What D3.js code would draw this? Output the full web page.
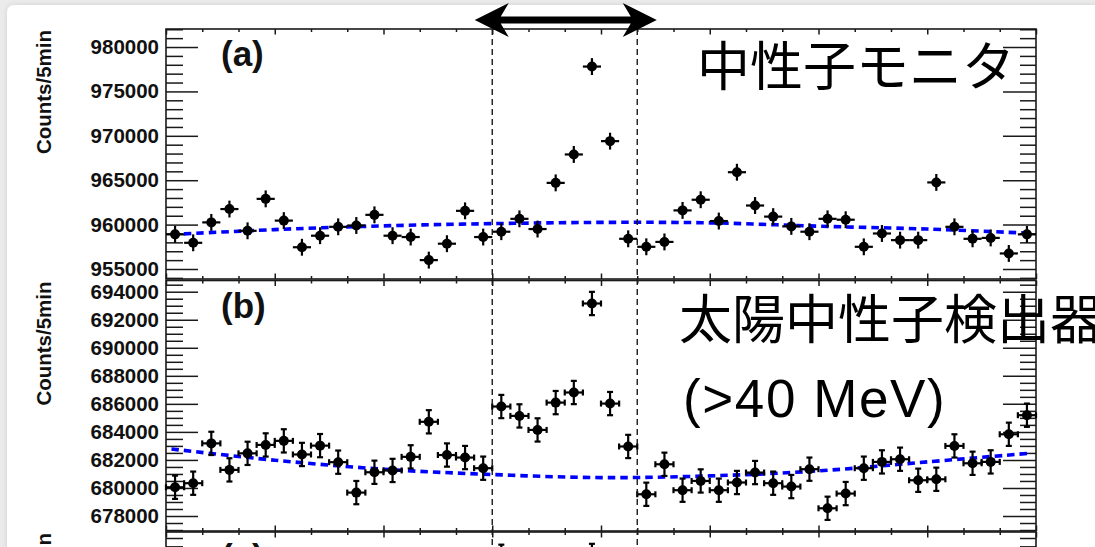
<!DOCTYPE html>
<html>
<head>
<meta charset="utf-8">
<script src="https://cdn.jsdelivr.net/npm/d3@7/dist/d3.min.js"></script>
<style>
  html, body { margin: 0; padding: 0; background: #ebebeb; }
  svg { display: block; }
</style>
</head>
<body>
<svg id="chart" width="1095" height="547"></svg>
<script>
// Time axis: minutes from the start of the window, 48 bins of 5 minutes
const binMinutes = 5;
const xDomain = [0, 240];
const xMinorStep = 10;
const xMajorStep = 30;
const eventWindow = [90, 130];   // dashed markers / arrow span

// (a) neutron monitor counts per 5-minute bin
const monitorCounts = [
  958900, 957950, 960250, 961750, 959300, 962900, 960450, 957450,
  958750, 959750, 959900, 961100, 958750, 958600, 956000, 957850,
  961550, 958600, 959200, 960650, 959500, 964700, 967900, 977800,
  969400, 958400, 957500, 958050, 961600, 962800, 960400, 965900,
  962150, 960900, 959800, 959200, 960650, 960550, 957500, 959000,
  958250, 958250, 964750, 959750, 958400, 958500, 956750, 958900
];
const monitorError = 950;

// (b) solar neutron detector (>40 MeV) counts per 5-minute bin
const solarCounts = [
  680050, 680340, 683180, 681290, 682470, 683070, 683360, 682390,
  683020, 681840, 679670, 681120, 681250, 682220, 684720, 682350,
  682170, 681410, 685810, 685140, 684140, 686090, 686810, 693160,
  686020, 682960, 679550, 681690, 679840, 680500, 679840, 680390,
  681100, 680340, 680100, 681340, 678550, 679600, 681410, 681860,
  682050, 680550, 680620, 683000, 681760, 681860, 683830, 685190
];
const solarError = 830;

// Background fits (blue dotted), sampled along the time axis
const fitMinutes = [1.5, 30, 60, 90, 120, 150, 180, 210, 238.5];
const monitorFit = [958880, 959440, 959860, 960110, 960250, 960200, 959820, 959500, 959020];
const solarFit   = [682780, 681980, 681340, 680960, 680740, 680860, 681220, 681860, 682480];

// Y-axis ticks
const monitorMajor = [955000, 960000, 965000, 970000, 975000, 980000];
const monitorMinorStep = 1000;
const solarMajor = [678000, 680000, 682000, 684000, 686000, 688000, 690000, 692000, 694000];
const solarMinorStep = 500;

// (c) only the top strip is on screen
const panelCMinorStep = 1;
const panelCMajorStep = 5;
const panelCPoints = [ { bin: 18, v: 26.8 }, { bin: 23, v: 26.9 } ];
const panelCError = 1.4;

const yLabel = "Counts/5min";
const monitorTitle = "中性子モニタ";
const solarTitle1 = "太陽中性子検出器";
const solarTitle2 = "(>40 MeV)";

// ---------------------------------------------------------------
const svg = d3.select("#chart");
const W = 1095, H = 547;
const left = 166, right = 1036;

// page card with soft shadow
const defs = svg.append("defs");
const sh = defs.append("filter").attr("id", "shadow").attr("x", "-5%").attr("y", "-5%").attr("width", "110%").attr("height", "110%");
sh.append("feGaussianBlur").attr("in", "SourceAlpha").attr("stdDeviation", 2.5);
sh.append("feOffset").attr("dx", 0).attr("dy", 0).attr("result", "b");
sh.append("feFlood").attr("flood-color", "#000").attr("flood-opacity", 0.12);
sh.append("feComposite").attr("in2", "b").attr("operator", "in");
const mg = sh.append("feMerge");
mg.append("feMergeNode");
mg.append("feMergeNode").attr("in", "SourceGraphic");

svg.append("rect").attr("width", W).attr("height", H).attr("fill", "#ebebeb");
svg.append("rect").attr("x", 7).attr("y", 5).attr("width", W + 20).attr("height", H + 20)
  .attr("rx", 7).attr("fill", "#fff").attr("filter", "url(#shadow)");

const x = d3.scaleLinear().domain(xDomain).range([left, right]);
const binCenter = i => x(i * binMinutes + binMinutes / 2);

const rangeStep = (a, b, s) => d3.range(Math.ceil(a / s) * s, b + 1e-9, s);
const latin = "'Liberation Sans', Arial, Helvetica, sans-serif";

function drawPanel(cfg) {
  const g = svg.append("g");
  const y = d3.scaleLinear().domain(cfg.domain).range([cfg.bottom, cfg.top]);
  const [d0, d1] = cfg.domain;
  const minor = rangeStep(d0, d1, cfg.minorStep).filter(v => !cfg.major.some(m => Math.abs(m - v) < 1e-6));

  // y axes: left with labels, right mirrored, ticks pointing inward
  const yl = g.append("g").attr("transform", `translate(${left},0)`)
    .call(d3.axisLeft(y).tickValues(cfg.major).tickSizeInner(-32).tickSizeOuter(0).tickPadding(7)
      .tickFormat(cfg.showLabels ? d3.format("d") : ""));
  g.append("g").attr("transform", `translate(${left},0)`)
    .call(d3.axisLeft(y).tickValues(minor).tickSizeInner(-17).tickSizeOuter(0).tickFormat(""));
  g.append("g").attr("transform", `translate(${right},0)`)
    .call(d3.axisRight(y).tickValues(cfg.major).tickSizeInner(-33).tickSizeOuter(0).tickFormat(""));
  g.append("g").attr("transform", `translate(${right},0)`)
    .call(d3.axisRight(y).tickValues(minor).tickSizeInner(-16).tickSizeOuter(0).tickFormat(""));

  // x axes on top and bottom edges, ticks inward
  const xMaj = rangeStep(xDomain[0], xDomain[1], xMajorStep);
  const xMin = rangeStep(xDomain[0], xDomain[1], xMinorStep).filter(v => v % xMajorStep !== 0);
  [[d3.axisBottom, cfg.top], [d3.axisTop, cfg.bottom]].forEach(([ax, yy]) => {
    g.append("g").attr("transform", `translate(0,${yy})`)
      .call(ax(x).tickValues(xMaj).tickSizeInner(5.5).tickSizeOuter(0).tickFormat(""));
    g.append("g").attr("transform", `translate(0,${yy})`)
      .call(ax(x).tickValues(xMin).tickSizeInner(3).tickSizeOuter(0).tickFormat(""));
  });

  g.selectAll(".domain").remove();
  g.selectAll(".tick line").attr("stroke", "#1a1a1a").attr("stroke-width", 1.5);
  yl.selectAll(".tick text")
    .attr("font-family", latin)
    .attr("font-weight", "bold").attr("font-size", 20.5).attr("fill", "#111");

  // frame
  g.append("rect").attr("x", left).attr("y", cfg.top)
    .attr("width", right - left).attr("height", cfg.bottom - cfg.top)
    .attr("fill", "none").attr("stroke", "#1a1a1a").attr("stroke-width", 1.6);

  // y title
  g.append("text")
    .attr("transform", `translate(${51},${cfg.top + 63}) rotate(-90)`)
    .attr("text-anchor", "middle")
    .attr("font-family", latin)
    .attr("font-weight", "bold").attr("font-size", 20.5).attr("fill", "#111")
    .text(yLabel);

  // panel tag
  g.append("text").attr("x", 221).attr("y", cfg.top + 37)
    .attr("font-family", latin)
    .attr("font-weight", "bold").attr("font-size", 35).attr("fill", "#111")
    .text(cfg.tag);

  // background fit
  if (cfg.fit) {
    const line = d3.line().x((d, i) => x(fitMinutes[i])).y(d => y(d)).curve(d3.curveCatmullRom.alpha(0.5));
    g.append("path").datum(cfg.fit).attr("d", line)
      .attr("fill", "none").attr("stroke", "#0000ff").attr("stroke-width", 3.6)
      .attr("stroke-dasharray", "7.5,5");
  }

  // data points with error bars
  const hw = x(binMinutes / 2) - x(0);
  const pts = g.append("g").selectAll("g").data(cfg.points).join("g");
  pts.append("line")
    .attr("x1", d => binCenter(d.bin) - hw).attr("x2", d => binCenter(d.bin) + hw)
    .attr("y1", d => y(d.v)).attr("y2", d => y(d.v));
  pts.append("line")
    .attr("x1", d => binCenter(d.bin)).attr("x2", d => binCenter(d.bin))
    .attr("y1", d => y(d.v - cfg.err)).attr("y2", d => y(d.v + cfg.err));
  if (cfg.caps) {
    pts.append("line")
      .attr("x1", d => binCenter(d.bin) - 3).attr("x2", d => binCenter(d.bin) + 3)
      .attr("y1", d => y(d.v + cfg.err)).attr("y2", d => y(d.v + cfg.err));
    pts.append("line")
      .attr("x1", d => binCenter(d.bin) - 3).attr("x2", d => binCenter(d.bin) + 3)
      .attr("y1", d => y(d.v - cfg.err)).attr("y2", d => y(d.v - cfg.err));
    pts.append("line")
      .attr("x1", d => binCenter(d.bin) - hw).attr("x2", d => binCenter(d.bin) - hw)
      .attr("y1", d => y(d.v) - 3).attr("y2", d => y(d.v) + 3);
    pts.append("line")
      .attr("x1", d => binCenter(d.bin) + hw).attr("x2", d => binCenter(d.bin) + hw)
      .attr("y1", d => y(d.v) - 3).attr("y2", d => y(d.v) + 3);
  }
  pts.selectAll("line").attr("stroke", "#000").attr("stroke-width", 2.2);
  pts.append("circle").attr("cx", d => binCenter(d.bin)).attr("cy", d => y(d.v))
    .attr("r", 5).attr("fill", "#000");
  return y;
}

drawPanel({
  tag: "(a)", top: 29, bottom: 279, domain: [953874, 982030],
  major: monitorMajor, minorStep: monitorMinorStep, showLabels: true,
  points: monitorCounts.map((v, i) => ({ bin: i, v })), err: monitorError,
  fit: monitorFit, caps: false
});
drawPanel({
  tag: "(b)", top: 280.5, bottom: 531, domain: [676930, 694800],
  major: solarMajor, minorStep: solarMinorStep, showLabels: true,
  points: solarCounts.map((v, i) => ({ bin: i, v })), err: solarError,
  fit: solarFit, caps: true
});
drawPanel({
  tag: "(c)", top: 532, bottom: 782, domain: [-0.28, 29.72],
  major: rangeStep(0, 29.72, panelCMajorStep), minorStep: panelCMinorStep, showLabels: false,
  points: panelCPoints, err: panelCError, fit: null, caps: true
});

// event window: dashed verticals through all panels
svg.append("g").selectAll("line").data(eventWindow).join("line")
  .attr("x1", d => x(d)).attr("x2", d => x(d))
  .attr("y1", 29).attr("y2", H)
  .attr("stroke", "#1a1a1a").attr("stroke-width", 1.4).attr("stroke-dasharray", "6,4");

// double-headed arrow above the window
const ax0 = x(eventWindow[0]) - 17.5, ax1 = x(eventWindow[1]) + 19.5, ay = 20;
const headL = 34, headH = 17, shaft = 3.6, notch = 8;
const arrow = [
  [ax0, ay], [ax0 + headL, ay - headH], [ax0 + headL - notch, ay - shaft],
  [ax1 - headL + notch, ay - shaft], [ax1 - headL, ay - headH], [ax1, ay],
  [ax1 - headL, ay + headH], [ax1 - headL + notch, ay + shaft],
  [ax0 + headL - notch, ay + shaft], [ax0 + headL, ay + headH]
];
svg.append("path").attr("d", d3.line()(arrow) + "Z").attr("fill", "#000");

// Japanese titles
const jp = "'Noto Sans CJK JP', 'Noto Sans CJK SC', sans-serif";
svg.append("text").attr("x", 697).attr("y", 86).attr("font-family", jp)
  .attr("font-size", 53).attr("fill", "#000").text(monitorTitle);
svg.append("text").attr("x", 679).attr("y", 339).attr("font-family", jp)
  .attr("font-size", 53).attr("fill", "#000").text(solarTitle1);
svg.append("text").attr("x", 683).attr("y", 417).attr("font-family", latin)
  .attr("font-size", 53).attr("letter-spacing", 1.6).attr("fill", "#000").text(solarTitle2);
</script>
</body>
</html>
